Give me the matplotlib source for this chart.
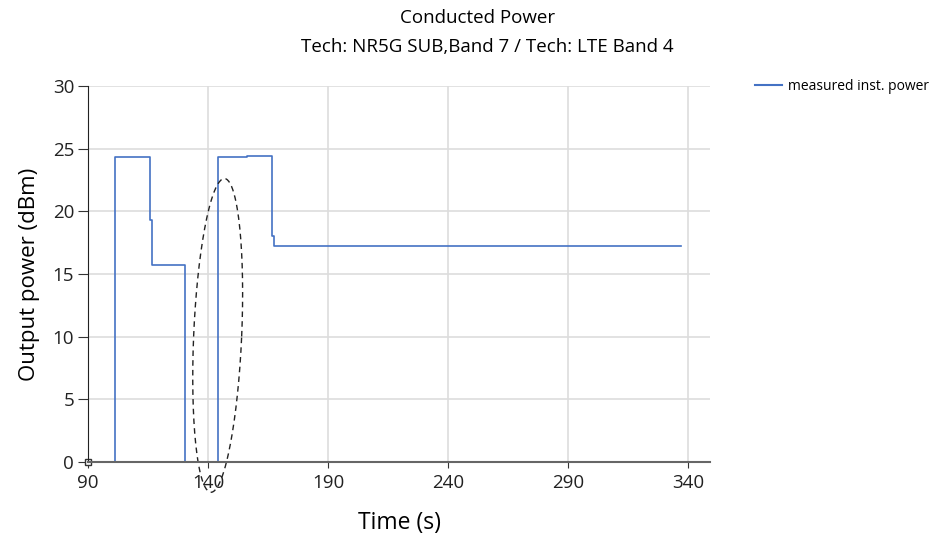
import numpy as np
import matplotlib.pyplot as plt
from matplotlib.lines import Line2D

# step trace of measured power (time in s, power in dBm)
time_s = [90.0, 101.2, 101.2, 115.8, 115.8, 116.0, 116.0, 116.7,
          116.7, 130.4, 130.4, 144.2, 144.2, 156.0, 156.0, 166.7, 166.7, 167.6,
          167.6, 337.0]
power_dbm = [0.0, 0.0, 24.3, 24.3, 22.5, 22.5, 19.3, 19.3,
             15.7, 15.7, 0.0, 0.0, 24.3, 24.3, 24.4, 24.4, 18.0, 18.0,
             17.2, 17.2]

title = "Conducted Power"
subtitle = "Tech: NR5G SUB,Band 7 / Tech: LTE Band 4"
x_ticks = [90, 140, 190, 240, 290, 340]
y_ticks = [0, 5, 10, 15, 20, 25, 30]

plt.rcParams['font.family'] = ['Open Sans', 'DejaVu Sans']

fig = plt.figure(figsize=(9.39, 5.35), dpi=100)
ax = fig.add_axes([88/939, (535-462)/535, (710-88)/939, (462-86)/535])

ax.plot(time_s, power_dbm, color='#4472c4', lw=1.2, label='measured inst. power')
ax.plot([90], [0], marker='s', ms=4, mfc='white', mec='#333333', mew=1, clip_on=False)

# dashed annotation ellipse (slightly tilted), built in pixel space
px_per_x = (710-88) / (349-90)
px_per_y = (462-86) / 30
t = np.linspace(0, 2*np.pi, 200)
a, b, tilt = 24.0, 157.0, np.deg2rad(-2.5)
ex = a*np.cos(t)*np.cos(tilt) - b*np.sin(t)*np.sin(tilt)
ey = a*np.cos(t)*np.sin(tilt) + b*np.sin(t)*np.cos(tilt)
ax.plot(144.0 + ex/px_per_x, 10.1 + ey/px_per_y, color='#222222', lw=1.0,
        ls=(0, (4, 3)), clip_on=False)

ax.set_xlim(90, 349)
ax.set_ylim(0, 30)
ax.set_xticks(x_ticks)
ax.set_yticks(y_ticks)
ax.grid(True, color='#dddddd', lw=1.2)
ax.set_axisbelow(True)
for s in ['top', 'right']:
    ax.spines[s].set_visible(False)
ax.spines['left'].set_color('#222222')
ax.spines['bottom'].set_color('#666666')
ax.spines['bottom'].set_linewidth(1.5)
ax.tick_params(axis='both', labelsize=13.5, colors='#333333', labelcolor='#222222')
ax.tick_params(axis='y', length=7, pad=3)
ax.tick_params(axis='x', length=4, pad=5)

ax.set_xlabel('Time (s)', fontsize=16.5, labelpad=13)
ax.set_ylabel('Output power (dBm)', fontsize=16, labelpad=9)

fig.text(478/939, 1 - 18/535, title, ha='center', va='center', fontsize=13.5)
fig.text(487/939, 1 - 47/535, subtitle, ha='center', va='center', fontsize=13.5)

handle = Line2D([], [], color='#4472c4', lw=1.5)
fig.legend([handle], ['measured inst. power'], loc='center left',
           bbox_to_anchor=(742/939, 1 - 86/535), frameon=False, fontsize=10,
           handlelength=2.0, handletextpad=0.4)

fig.savefig('out.png', dpi=100)
